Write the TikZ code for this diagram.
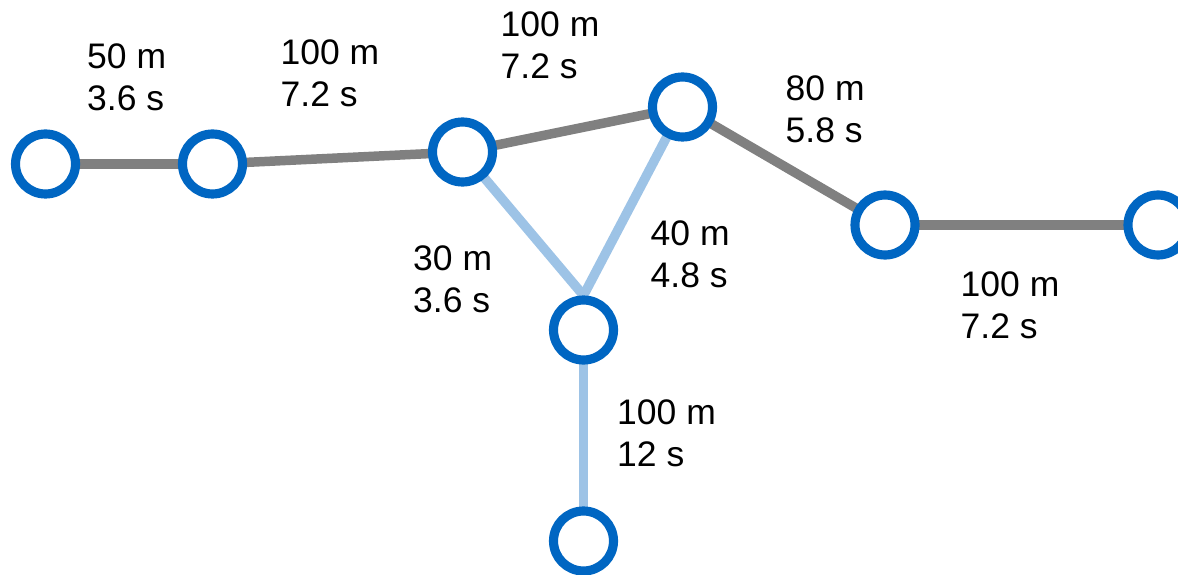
\documentclass[tikz,border=0pt]{standalone}
\usepackage{fontspec}
\setmainfont{Liberation Sans}
\usetikzlibrary{positioning,backgrounds}
\definecolor{noazul}{RGB}{0,102,194}
\definecolor{arcinza}{RGB}{128,128,128}
\definecolor{arazul}{RGB}{157,195,230}

\begin{document}
\begin{tikzpicture}[
    no/.style={circle, draw=noazul, fill=white, line width=2.6pt, minimum size=0.6cm, inner sep=0pt},
    cinza/.style={draw=arcinza, line width=2.7pt},
    azul/.style={draw=arazul, line width=2.7pt},
    rotulo/.style={anchor=north west, inner sep=0pt, align=left, font=\fontsize{10.1}{11.95}\selectfont}
  ]
    \clip (0,0) rectangle (11.78,5.74);

    % Nós
    \node[no] (n1) at (0.455,4.10) {};
    \node[no] (n2) at (2.125,4.10) {};
    \node[no] (n3) at (4.625,4.22) {};
    \node[no] (n4) at (6.825,4.67) {};
    \node[no] (n5) at (8.85,3.49) {};
    \node[no] (n6) at (11.58,3.49) {};
    \node[no] (n7) at (5.835,2.44) {};
    \node[no] (n8) at (5.835,0.33) {};

    % Arestas
    \begin{scope}[on background layer]
    \draw[cinza] (n1.center) -- (n2.center);
    \draw[cinza] (n2.center) -- (n3.center);
    \draw[cinza] (n3.center) -- (n4.center);
    \draw[cinza] (n4.center) -- (n5.center);
    \draw[cinza] (n5.center) -- (n6.center);
    \draw[azul] (n3.center) -- (n7.north);
    \draw[azul] (n4.center) -- (n7.north);
    \draw[azul] (n7.center) -- (n8.center);
    \end{scope}

    % Rótulos
    \node[rotulo] (l12) at (0.865,5.31) {50 m\\3.6 s};
    \node[rotulo] (l23) at (2.80,5.35) {100 m\\7.2 s};
    \node[rotulo] (l34) at (5.00,5.63) {100 m\\7.2 s};
    \node[rotulo] (l45) at (7.85,4.99) {80 m\\5.8 s};
    \node[rotulo] (l37) at (4.125,3.29) {30 m\\3.6 s};
    \node[rotulo] (l47) at (6.50,3.54) {40 m\\4.8 s};
    \node[rotulo] (l56) at (9.60,3.03) {100 m\\7.2 s};
    \node[rotulo] (l78) at (6.165,1.75) {100 m\\12 s};
\end{tikzpicture}
\end{document}
